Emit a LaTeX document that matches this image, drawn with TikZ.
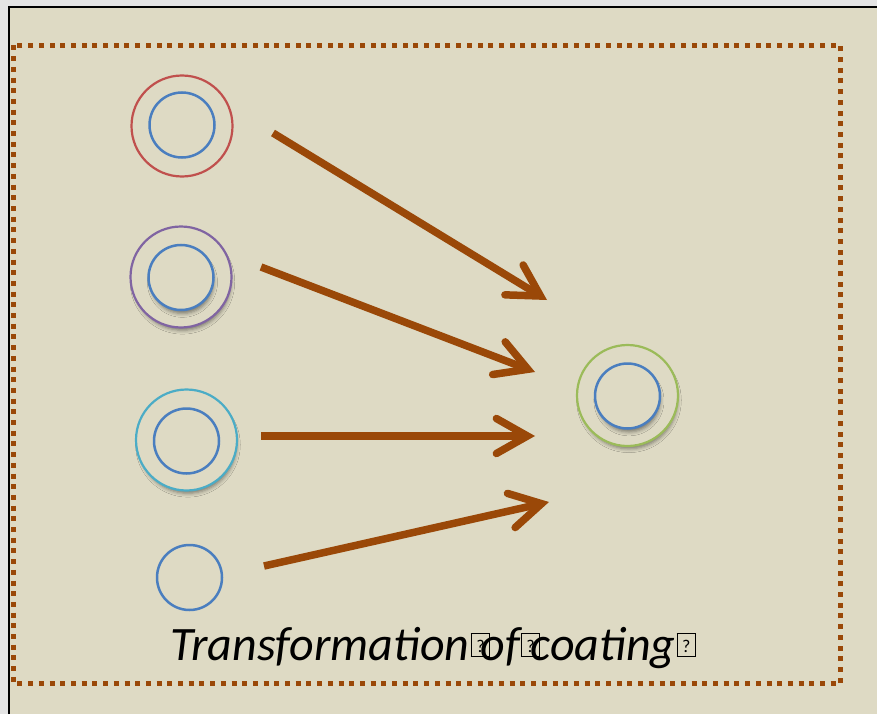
\documentclass[tikz,border=0pt]{standalone}
\usepackage{fontspec}
\setmainfont{Carlito}
\usetikzlibrary{arrows.meta,shadows.blur}

\definecolor{pagegray}{RGB}{228,228,228}
\definecolor{paper}{RGB}{222,218,196}
\definecolor{rust}{RGB}{154,72,8}
\definecolor{ringred}{RGB}{192,80,77}
\definecolor{ringblue}{RGB}{74,126,191}
\definecolor{ringpurple}{RGB}{128,100,162}
\definecolor{ringcyan}{RGB}{75,172,198}
\definecolor{ringgreen}{RGB}{155,187,89}

% placeholder box for a glyph the font could not show
\newcommand\missglyph{\rlap{\kern1pt\raisebox{4pt}{\fboxsep=0pt\fboxrule=1.3pt\fbox{\makebox[17pt]{\rule{0pt}{22pt}\raisebox{3.5pt}{\upshape\fontsize{18}{18}\selectfont ?}}}}}}

\tikzset{
  outerring/.style={circle, draw=#1, line width=2.2pt, minimum size=101pt, inner sep=0pt},
  innerring/.style={circle, draw=ringblue, line width=2.5pt, minimum size=65pt, inner sep=0pt},
  plainring/.style={fill=paper},
  shadowring/.style={fill=paper, blur shadow={shadow xshift=1.5pt, shadow yshift=-5pt,
      shadow scale=0.96, shadow blur radius=4pt, shadow opacity=45}},
  flow/.style={draw=rust, line width=7.5pt,
      -{Straight Barb[length=31pt, width=35pt, line cap=round, line join=miter]}},
  frame/.style={draw=rust, line width=5pt, dash pattern=on 5pt off 5.7pt},
}

\begin{document}
\begin{tikzpicture}[x=1pt,y=-1pt]
\useasboundingbox (0,0) rectangle (877,714);
% backdrop and slide edge
\fill[pagegray] (0,0) rectangle (877,714);
\fill[paper] (9,7) rectangle (877,714);
\draw[black, line width=2pt] (9,714) -- (9,7) -- (877,7);

% dotted frame
\draw[frame] (13.5,45.5) rectangle (840.5,683.5);

% source particles
\node[outerring=ringred, plainring] (p1) at (182,126) {};
\node[innerring, plainring] (c1) at (182,125) {};

\node[outerring=ringpurple, shadowring] (p2) at (181,277) {};
\node[innerring, shadowring] (c2) at (181,277.5) {};

\node[outerring=ringcyan, shadowring] (p3) at (186.5,440) {};
\node[innerring, plainring] (c3) at (186.5,441) {};

\node[innerring, plainring] (c4) at (189.5,577.5) {};

% resulting particle
\node[outerring=ringgreen, shadowring] (p5) at (627.5,395.5) {};
\node[innerring, shadowring] (c5) at (627.5,396) {};

% arrow end points
\coordinate (s1) at (273,133);
\coordinate (e1) at (547,300);
\coordinate (s2) at (261,267);
\coordinate (e2) at (535,372);
\coordinate (s3) at (261,436);
\coordinate (e3) at (535,436);
\coordinate (s4) at (264,566);
\coordinate (e4) at (549,502);

\draw[flow] (s1) -- (e1);
\draw[flow] (s2) -- (e2);
\draw[flow] (s3) -- (e3);
\draw[flow] (s4) -- (e4);

% caption
\node[anchor=base west, inner sep=0pt, font=\fontsize{48}{48}\selectfont\itshape]
  (caption) at (170,660) {Transformation\missglyph{} of\missglyph{} coating\missglyph};
\end{tikzpicture}
\end{document}
